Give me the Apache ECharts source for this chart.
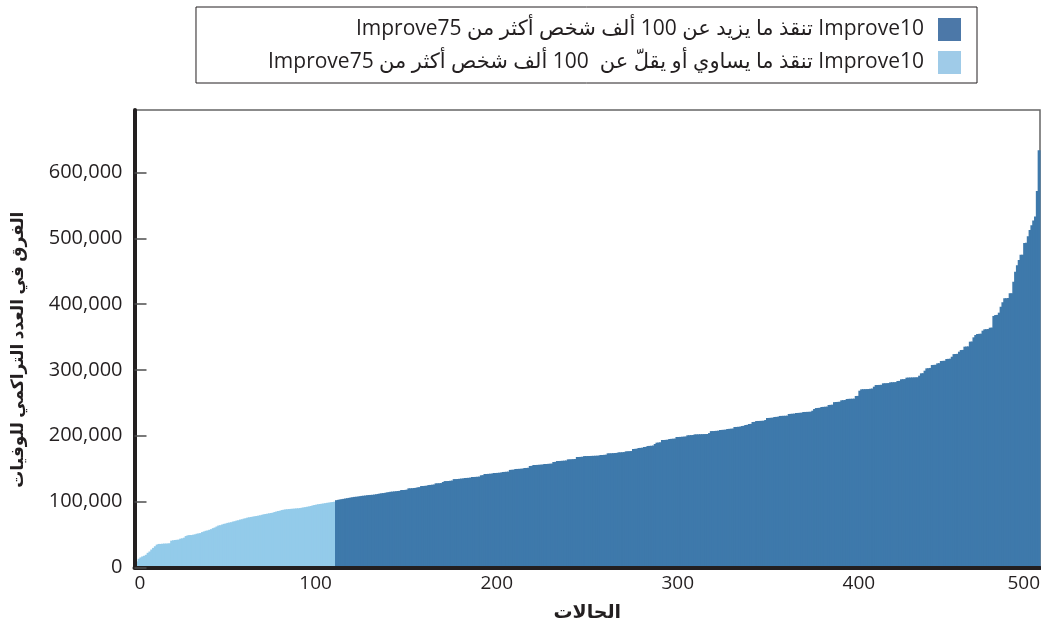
<!DOCTYPE html>
<html>
<head>
<meta charset="utf-8">
<script src="https://cdn.jsdelivr.net/npm/echarts@6/dist/echarts.min.js"></script>
<style>
html,body{margin:0;padding:0;background:#fff;}
#chart{width:1041px;height:631px;}
</style>
</head>
<body>
<div id="chart"></div>
<script>
// Series names (legend)
const nameMore = '\u202BImprove10 تنقذ ما يزيد عن 100 ألف شخص أكثر من Improve75\u202C';
const nameLess = '\u202BImprove10 تنقذ ما يساوي أو يقلّ عن  100 ألف شخص أكثر من Improve75\u202C';
const xAxisName = 'الحالات';
const yAxisName = 'الفرق في العدد التراكمي للوفيات';

// Tick values
const xTicks = [0, 100, 200, 300, 400, 500];
const yTicks = [0, 100000, 200000, 300000, 400000, 500000, 600000];

// Cases 0..110 (difference <= 100,000)
const lightValues = [
  5000,9000,13000,15000,16500,17500,19000,22000,24000,27000,
  29500,32000,34500,35500,35500,35800,36000,36000,36200,36500,
  40500,41000,41500,41800,42000,43500,44000,45000,47500,48500,
  49000,49000,49500,50000,51000,51500,52000,53500,54500,55500,
  56000,57000,58000,59500,60500,62000,63500,64000,65000,66000,
  66500,67500,68000,68500,69500,70000,71000,71500,72500,73000,
  74000,74500,75500,76000,76500,77000,77500,78000,78500,79000,
  79800,80500,81000,81500,82000,82500,83000,84000,84800,85500,
  86000,87000,87500,88000,88200,88500,88800,89000,89200,89500,
  89600,90000,90500,91000,91500,92000,92500,93200,94000,94700,
  95200,95800,96200,96600,97000,97500,98000,98300,98800,99200,99700
];
// Cases 111..499 (difference > 100,000)
const darkStart = 111;
const darkValues = [
  102000,102500,103000,103500,104000,104500,105000,105500,106000,106500,
  107000,107200,107500,108000,108500,108800,109000,109500,109800,110000,
  110200,110500,111000,111500,112000,112500,112800,113200,113800,114200,
  114800,115000,115300,115600,116000,116200,
  117500,117500,117600,118000,120000,120000,120200,120500,120800,121500,
  121800,123500,123500,123800,124000,125000,125200,125500,125800,127600,
  127600,127800,128000,129600,131000,131000,131200,131500,131800,134000,
  134000,134200,134500,134800,135000,135700,135800,136000,136200,137200,
  137200,137400,137600,137800,139800,140000,141800,141800,142000,142200,
  142400,143300,143300,143500,
  143700,144000,144800,145000,145200,145400,148000,148200,148400,149400,
  149500,149600,149800,150000,150900,151000,151200,154000,154200,155500,
  155500,155600,155800,156000,156200,157000,157000,157200,157400,157600,
  160000,160200,161500,161500,161700,161900,162100,162300,164000,164000,
  164200,164400,164600,167600,167600,167800,168000,169000,169000,169100,
  169200,169300,169400,169500,169600,169800,170700,170700,170900,171100,
  173200,173200,173300,173500,173700,173900,174700,174700,174900,175100,
  176200,176300,176500,176700,179800,180000,180200,181300,181500,181700,
  182800,183000,184300,184500,184700,185000,187400,189400,189600,190000,
  193500,193500,193700,193900,195000,195200,195400,195600,198000,198000,
  198200,198400,198600,198800,200600,200700,200900,201100,202000,202000,
  202100,202200,202300,202400,202500,202600,204000,207000,207000,207200,
  207400,207600,208700,208800,209000,209200,210200,210400,210600,210800,
  213200,213300,213500,213700,214700,215000,216300,216500,217800,218000,
  220800,221000,222300,222400,222500,222600,222800,223900,226900,227000,
  227200,227400,228400,228600,228800,230000,230100,230200,230300,230400,
  233000,233200,233400,233600,234500,234600,234800,235000,236000,236100,
  236200,236300,236500,238000,240600,242000,242200,242400,243600,243800,
  244000,244200,246700,246900,247100,251000,251200,251400,251600,253800,
  254000,254200,255800,256000,256100,256200,256300,260300,260500,268400,
  270500,270600,270700,270800,270900,271400,271600,274500,277000,277100,
  277200,277300,279600,279700,279800,280000,281100,281200,281300,281400,
  283100,283300,285700,285900,286000,288200,288300,288400,288500,288600,
  288700,288800,291200,294800,295000,298800,302400,302600,303000,307400,
  307600,307800,310000,310200,313500,313700,313900,316600,316800,317000,
  320000,324000,324200,324400,327700,330200,330400,335300,335500,335700,
  342900,343100,349500,353000,354600,354800,355000,359600,361700,361900,
  362100,364100,364300,382000,383400,383600,387000,396000,403000,408800,
  409000,409200,416400,416600,434000,449000,459000,467000,475000,475200,
  493000,493200,503000,512600,520000,527000,533000,572000,634000
];

const xMin = 0, xMax = 500, xInterval = 100;
const yMin = 0, yMax = 695000, yInterval = 100000;

const darkColor = '#3e79ab';
const lightColor = '#93cbea';
const textColor = '#231f20';
const fontFam = "'Open Sans', 'DejaVu Sans', sans-serif";

const lightData = lightValues.map((v, i) => [i + 0.5, v]);
const darkData = darkValues.map((v, i) => [darkStart + i + 0.5, v]);

const chart = echarts.init(document.getElementById('chart'), null, {renderer: 'canvas'});
chart.setOption({
  animation: false,
  backgroundColor: '#fff',
  textStyle: {fontFamily: fontFam},
  legend: {
    orient: 'vertical',
    right: 64,
    top: 7,
    align: 'right',
    itemWidth: 23,
    itemHeight: 23,
    itemGap: 10,
    padding: [11, 16, 9, 72],
    borderColor: '#231f20',
    borderWidth: 1,
    icon: 'rect',
    textStyle: {fontSize: 21, lineHeight: 23, color: textColor, fontFamily: fontFam, padding: [0, 9, 0, 0]},
    data: [
      {name: nameMore, itemStyle: {color: '#4c78a8'}},
      {name: nameLess, itemStyle: {color: '#9fcbe8'}}
    ]
  },
  grid: {left: 134.5, right: 1, top: 110, bottom: 63.7, show: true, borderColor: '#666', borderWidth: 1.5, outerBoundsMode: 'none', containLabel: false},
  xAxis: {
    type: 'value', min: xMin, max: xMax, interval: xInterval, z: 10,
    name: xAxisName, nameLocation: 'middle', nameGap: 30,
    nameTextStyle: {fontSize: 19, lineHeight: 30, fontWeight: 'bold', color: textColor, fontFamily: "'DejaVu Sans', sans-serif"},
    axisLine: {show: true, lineStyle: {color: textColor, width: 4}},
    axisTick: {show: false},
    splitLine: {show: false},
    axisLabel: {fontSize: 19, color: textColor, margin: 7, alignMinLabel: 'left', alignMaxLabel: 'right', fontFamily: fontFam, customValues: xTicks}
  },
  yAxis: {
    type: 'value', min: yMin, max: yMax, interval: yInterval, z: 10,
    name: yAxisName, nameLocation: 'middle', nameGap: 108, nameRotate: 90,
    nameTextStyle: {fontSize: 17, fontWeight: 'bold', color: textColor, fontFamily: fontFam, padding: [0, 22, 0, 0]},
    axisLine: {show: true, lineStyle: {color: textColor, width: 4}},
    axisTick: {show: true, inside: true, length: 12, customValues: yTicks, lineStyle: {color: '#4d4d4d', width: 1.5}},
    splitLine: {show: false},
    axisLabel: {
      fontSize: 20, color: textColor, margin: 12, fontFamily: fontFam, customValues: yTicks,
      formatter: function (v) { return v.toLocaleString('en-US'); }
    }
  },
  series: [
    {
      name: nameLess, type: 'bar', data: lightData, barWidth: '160%', barGap: '-100%',
      itemStyle: {color: lightColor},
      emphasis: {disabled: true}
    },
    {
      name: nameMore, type: 'bar', data: darkData, barWidth: '160%', barGap: '-100%',
      itemStyle: {color: darkColor},
      emphasis: {disabled: true}
    }
  ]
});
</script>
</body>
</html>
